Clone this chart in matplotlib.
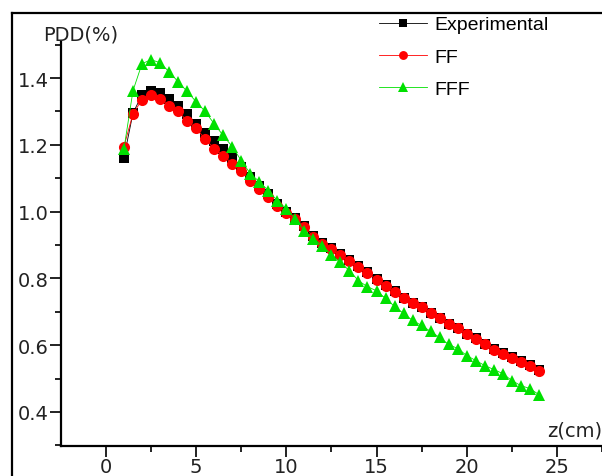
import matplotlib
matplotlib.use('Agg')
import matplotlib.pyplot as plt
from matplotlib.lines import Line2D

# depth (cm)
z = [1, 1.5, 2, 2.5, 3, 3.5, 4, 4.5, 5, 5.5, 6, 6.5, 7, 7.5, 8, 8.5, 9, 9.5,
     10, 10.5, 11, 11.5, 12, 12.5, 13, 13.5, 14, 14.5, 15, 15.5, 16, 16.5,
     17, 17.5, 18, 18.5, 19, 19.5, 20, 20.5, 21, 21.5, 22, 22.5, 23, 23.5, 24]

experimental = [1.162, 1.295, 1.350, 1.362, 1.356, 1.338, 1.317, 1.293, 1.262,
                1.234, 1.210, 1.189, 1.160, 1.133, 1.103, 1.077, 1.052, 1.024,
                1.000, 0.981, 0.957, 0.928, 0.907, 0.891, 0.873, 0.855, 0.837,
                0.819, 0.798, 0.780, 0.762, 0.742, 0.727, 0.715, 0.697, 0.682,
                0.664, 0.652, 0.634, 0.621, 0.604, 0.589, 0.577, 0.565, 0.553,
                0.541, 0.526]

ff = [1.195, 1.293, 1.335, 1.350, 1.338, 1.317, 1.300, 1.272, 1.249, 1.218,
      1.189, 1.168, 1.144, 1.123, 1.093, 1.069, 1.045, 1.018, 0.997, 0.979,
      0.955, 0.925, 0.904, 0.889, 0.871, 0.853, 0.835, 0.817, 0.796, 0.778,
      0.760, 0.740, 0.725, 0.713, 0.695, 0.680, 0.662, 0.650, 0.632, 0.619,
      0.602, 0.587, 0.575, 0.563, 0.551, 0.539, 0.524]

fff = [1.188, 1.362, 1.443, 1.455, 1.446, 1.419, 1.389, 1.360, 1.329, 1.300,
       1.263, 1.228, 1.195, 1.153, 1.114, 1.090, 1.063, 1.033, 1.009, 0.979,
       0.943, 0.919, 0.898, 0.871, 0.848, 0.823, 0.793, 0.775, 0.763, 0.740,
       0.716, 0.695, 0.674, 0.659, 0.641, 0.623, 0.602, 0.590, 0.569, 0.554,
       0.539, 0.527, 0.515, 0.494, 0.479, 0.470, 0.452]

xticks = [0, 5, 10, 15, 20, 25]
yticks = [0.4, 0.6, 0.8, 1.0, 1.2, 1.4]

fig = plt.figure(figsize=(6.02, 4.77), dpi=100)
ax = fig.add_axes([61 / 602, 30 / 477, 541 / 602, 404 / 477])

ax.plot(z, experimental, color='black', lw=0.6, marker='s', markersize=7.5,
        markeredgewidth=0, label='Experimental')
ax.plot(z, ff, color='red', lw=0.6, marker='o', markersize=8,
        markeredgewidth=0, label='FF')
ax.plot(z, fff, color='#00e000', lw=0.6, marker='^', markersize=9,
        markeredgewidth=0, label='FFF')

ax.set_xlim(-2.49, 27.48)
ax.set_ylim(0.298, 1.508)

ax.spines['top'].set_visible(False)
ax.spines['right'].set_visible(False)
ax.spines['left'].set_linewidth(1.6)
ax.spines['bottom'].set_linewidth(1.6)

ax.set_xticks(xticks)
ax.set_xticks([2.5, 7.5, 12.5, 17.5, 22.5, 27.5], minor=True)
ax.set_yticks(yticks)
ax.set_yticks([0.3, 0.5, 0.7, 0.9, 1.1, 1.3, 1.5], minor=True)
ax.set_xticklabels([str(t) for t in xticks])
ax.set_yticklabels(['%.1f' % t for t in yticks])

ax.tick_params(which='major', direction='out', length=8, width=1.4,
               labelsize=14, colors='#222222')
ax.tick_params(which='minor', direction='out', length=4, width=1.4,
               colors='#222222')
ax.tick_params(axis='y', pad=1)
ax.tick_params(axis='x', pad=0)

fig.text(43 / 602, 1 - 35 / 477, 'PDD(%)', fontsize=14, va='center', ha='left',
         color='#222222')
fig.text(547 / 602, 1 - 431 / 477, 'z(cm)', fontsize=14, va='center', ha='left',
         color='#222222')

# outer frame lines
fig.add_artist(Line2D([12 / 602, 12 / 602], [0, 1 - 14 / 477], color='black',
                      lw=1.6, transform=fig.transFigure))
fig.add_artist(Line2D([12 / 602, 1], [1 - 14 / 477, 1 - 14 / 477], color='black',
                      lw=1.6, transform=fig.transFigure))

leg = fig.legend(loc='upper left', bbox_to_anchor=(369 / 602, 1 - 7 / 477),
                 frameon=False, prop={'family': 'Liberation Sans', 'size': 14},
                 handlelength=2.5, handletextpad=0.35, labelspacing=0.75,
                 borderpad=0, markerscale=0.8)

fig.savefig('out.png', dpi=100)
